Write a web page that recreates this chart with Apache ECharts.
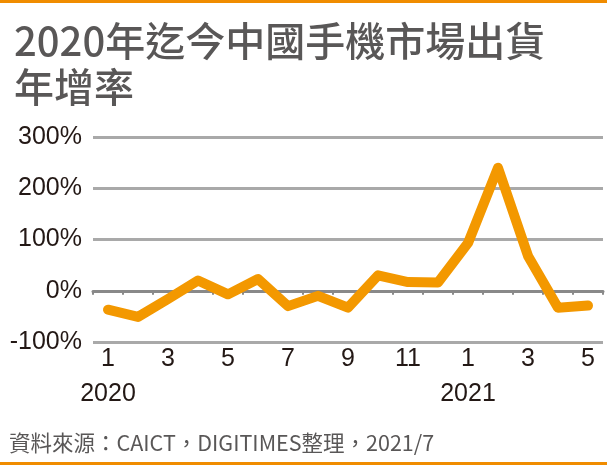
<!DOCTYPE html>
<html>
<head>
<meta charset="utf-8">
<script src="https://cdn.jsdelivr.net/npm/echarts@6/dist/echarts.min.js"></script>
<style>
  html, body { margin: 0; padding: 0; background: #fff; }
  #chart { width: 607px; height: 465px; }
</style>
</head>
<body>
<div id="chart"></div>
<script>
const titleText = '2020年迄今中國手機市場出貨\n年增率';
const sourceText = '資料來源：CAICT，DIGITIMES整理，2021/7';
const months = ['2020/1','2020/2','2020/3','2020/4','2020/5','2020/6','2020/7','2020/8','2020/9','2020/10','2020/11','2020/12',
                '2021/1','2021/2','2021/3','2021/4','2021/5'];
const growth = [-37, -51, -16, 20, -7, 23, -30, -10, -33, 30, 17, 16, 93, 240, 68, -33, -29];
const yTicks = [-100, 0, 100, 200, 300];

const chart = echarts.init(document.getElementById('chart'));
const orange = '#F39800';

function monthLabel(v){
    const parts = v.split('/');
    return parts[1] === '1' ? parts[1] + '\n' + parts[0] : parts[1];
}

const option = {
    animation: false,
    title: [{
        text: titleText,
        left: 9,
        top: 13,
        textStyle: {
            fontFamily: 'Noto Sans CJK TC',
            fontSize: 40,
            fontWeight: 500,
            color: '#595757',
            lineHeight: 46
        }
    }, {
        text: sourceText,
        left: 4,
        top: 427,
        textStyle: {
            fontFamily: 'Noto Sans CJK TC',
            fontSize: 21.5,
            fontWeight: 'normal',
            color: '#595757'
        }
    }],
    graphic: [
        { type: 'rect', shape: { x: 0, y: 0, width: 607, height: 3 }, style: { fill: '#F08C00' } },
        { type: 'rect', shape: { x: 0, y: 462, width: 607, height: 3 }, style: { fill: '#F08C00' } }
    ],
    grid: {
        left: 93,
        right: 4,
        top: 137,
        bottom: 123
    },
    xAxis: [{
        type: 'category',
        data: months,
        boundaryGap: true,
        axisLine: { show: false, onZero: false },
        axisTick: { show: false },
        axisLabel: {
            interval: 1,
            formatter: monthLabel,
            fontFamily: 'Liberation Sans',
            fontSize: 25,
            color: '#231815',
            lineHeight: 35,
            margin: 0
        }
    }, {
        type: 'category',
        data: months,
        position: 'bottom',
        boundaryGap: true,
        axisLine: { show: true, onZero: true, lineStyle: { color: '#898989', width: 3 } },
        axisTick: { show: true, interval: 0, length: 4, lineStyle: { color: '#898989', width: 2 } },
        axisLabel: { show: false }
    }],
    yAxis: {
        type: 'value',
        min: yTicks[0],
        max: yTicks[yTicks.length - 1],
        interval: 100,
        axisLine: { show: false },
        axisTick: { show: false },
        axisLabel: {
            formatter: '{value}%',
            fontFamily: 'Liberation Sans',
            fontSize: 25,
            color: '#231815',
            margin: 11
        },
        splitLine: {
            lineStyle: { color: '#A9A9A9', width: 3 }
        }
    },
    series: [{
        type: 'line',
        xAxisIndex: 0,
        data: growth,
        symbol: 'none',
        lineStyle: { color: orange, width: 10, cap: 'round', join: 'round' }
    }]
};
chart.setOption(option);
</script>
</body>
</html>
